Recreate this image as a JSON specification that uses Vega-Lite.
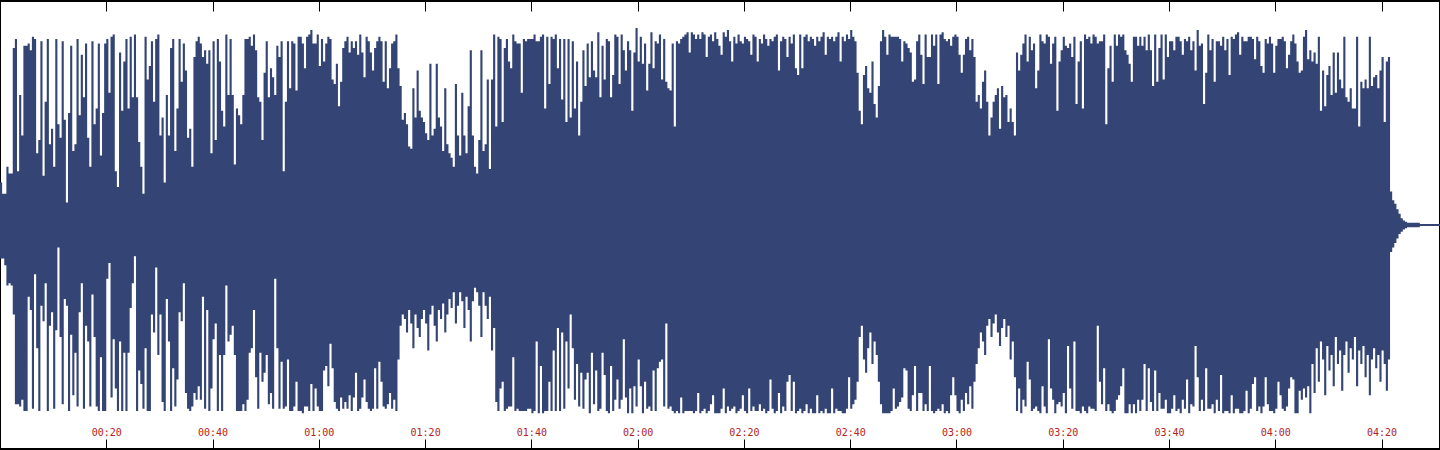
{
"$schema":"https://vega.github.io/schema/vega-lite/v6.json",
"width":1440,"height":450,"padding":0,
"autosize":{"type":"fit","contains":"padding"},
"background":"white",
"config":{"view":{"stroke":"#000000","strokeWidth":2}},
"data":{"values":[
{"t":0,"h":19,"l":-15},{"t":0.4,"h":14,"l":-15},{"t":0.8,"h":14,"l":-18},{"t":1.2,"h":26,"l":-27},{"t":1.6,"h":23,"l":-26},
{"t":2,"h":23,"l":-27},{"t":2.4,"h":79,"l":-40},{"t":2.8,"h":83,"l":-80},{"t":3.2,"h":24,"l":-80},{"t":3.6,"h":58,"l":-81},
{"t":4,"h":40,"l":-78},{"t":4.4,"h":80,"l":-83},{"t":4.8,"h":80,"l":-83},{"t":5.2,"h":81,"l":-32},{"t":5.6,"h":78,"l":-38},
{"t":6,"h":84,"l":-82},{"t":6.4,"h":83,"l":-22},{"t":6.8,"h":32,"l":-55},{"t":7.2,"h":38,"l":-83},{"t":7.6,"h":82,"l":-36},
{"t":8,"h":22,"l":-43},{"t":8.4,"h":55,"l":-26},{"t":8.8,"h":83,"l":-83},{"t":9.2,"h":36,"l":-45},{"t":9.6,"h":43,"l":-39},
{"t":10,"h":26,"l":-82},{"t":10.4,"h":83,"l":-47},{"t":10.8,"h":45,"l":-10},{"t":11.2,"h":39,"l":-50},{"t":11.6,"h":82,"l":-80},
{"t":12,"h":47,"l":-33},{"t":12.4,"h":10,"l":-36},{"t":12.8,"h":50,"l":-83},{"t":13.2,"h":80,"l":-49},{"t":13.6,"h":33,"l":-76},
{"t":14,"h":36,"l":-57},{"t":14.4,"h":83,"l":-81},{"t":14.8,"h":49,"l":-39},{"t":15.2,"h":76,"l":-26},{"t":15.6,"h":57,"l":-82},
{"t":16,"h":81,"l":-45},{"t":16.4,"h":39,"l":-52},{"t":16.8,"h":26,"l":-81},{"t":17.2,"h":82,"l":-31},{"t":17.6,"h":45,"l":-50},
{"t":18,"h":52,"l":-81},{"t":18.4,"h":81,"l":-83},{"t":18.8,"h":31,"l":-59},{"t":19.2,"h":50,"l":-83},{"t":19.6,"h":81,"l":-83},
{"t":20,"h":83,"l":-24},{"t":20.4,"h":59,"l":-17},{"t":20.8,"h":84,"l":-77},{"t":21.2,"h":85,"l":-51},{"t":21.6,"h":24,"l":-73},
{"t":22,"h":17,"l":-83},{"t":22.4,"h":77,"l":-52},{"t":22.8,"h":51,"l":-83},{"t":23.2,"h":73,"l":-57},{"t":23.6,"h":83,"l":-83},
{"t":24,"h":52,"l":-57},{"t":24.4,"h":84,"l":-37},{"t":24.8,"h":57,"l":-26},{"t":25.2,"h":85,"l":-14},{"t":25.6,"h":57,"l":-83},
{"t":26,"h":37,"l":-65},{"t":26.4,"h":26,"l":-71},{"t":26.8,"h":14,"l":-82},{"t":27.2,"h":84,"l":-55},{"t":27.6,"h":65,"l":-83},
{"t":28,"h":71,"l":-83},{"t":28.4,"h":82,"l":-40},{"t":28.8,"h":55,"l":-48},{"t":29.2,"h":83,"l":-19},{"t":29.6,"h":85,"l":-58},
{"t":30,"h":40,"l":-40},{"t":30.4,"h":48,"l":-79},{"t":30.8,"h":19,"l":-83},{"t":31.2,"h":58,"l":-33},{"t":31.6,"h":40,"l":-52},
{"t":32,"h":79,"l":-83},{"t":32.4,"h":83,"l":-64},{"t":32.8,"h":33,"l":-81},{"t":33.2,"h":52,"l":-69},{"t":33.6,"h":83,"l":-39},
{"t":34,"h":64,"l":-43},{"t":34.4,"h":81,"l":-26},{"t":34.8,"h":69,"l":-75},{"t":35.2,"h":39,"l":-82},{"t":35.6,"h":43,"l":-83},
{"t":36,"h":26,"l":-81},{"t":36.4,"h":75,"l":-75},{"t":36.8,"h":82,"l":-78},{"t":37.2,"h":84,"l":-72},{"t":37.6,"h":81,"l":-78},
{"t":38,"h":75,"l":-32},{"t":38.4,"h":78,"l":-82},{"t":38.8,"h":72,"l":-38},{"t":39.2,"h":78,"l":-83},{"t":39.6,"h":32,"l":-73},
{"t":40,"h":82,"l":-51},{"t":40.4,"h":38,"l":-44},{"t":40.8,"h":83,"l":-83},{"t":41.2,"h":73,"l":-58},{"t":41.6,"h":51,"l":-83},
{"t":42,"h":44,"l":-58},{"t":42.4,"h":85,"l":-27},{"t":42.8,"h":58,"l":-52},{"t":43.2,"h":83,"l":-49},{"t":43.6,"h":58,"l":-45},
{"t":44,"h":27,"l":-58},{"t":44.4,"h":52,"l":-83},{"t":44.8,"h":49,"l":-83},{"t":45.2,"h":45,"l":-83},{"t":45.6,"h":58,"l":-80},
{"t":46,"h":83,"l":-83},{"t":46.4,"h":83,"l":-78},{"t":46.8,"h":84,"l":-57},{"t":47.2,"h":80,"l":-55},{"t":47.6,"h":85,"l":-38},
{"t":48,"h":78,"l":-68},{"t":48.4,"h":57,"l":-82},{"t":48.8,"h":55,"l":-57},{"t":49.2,"h":38,"l":-70},{"t":49.6,"h":68,"l":-66},
{"t":50,"h":82,"l":-58},{"t":50.4,"h":57,"l":-80},{"t":50.8,"h":70,"l":-75},{"t":51.2,"h":66,"l":-82},{"t":51.6,"h":58,"l":-24},
{"t":52,"h":80,"l":-55},{"t":52.4,"h":75,"l":-82},{"t":52.8,"h":82,"l":-61},{"t":53.2,"h":24,"l":-82},{"t":53.6,"h":55,"l":-81},
{"t":54,"h":82,"l":-60},{"t":54.4,"h":61,"l":-83},{"t":54.8,"h":82,"l":-83},{"t":55.2,"h":81,"l":-81},{"t":55.6,"h":60,"l":-70},
{"t":56,"h":84,"l":-83},{"t":56.4,"h":84,"l":-83},{"t":56.8,"h":81,"l":-84},{"t":57.2,"h":70,"l":-81},{"t":57.6,"h":84,"l":-81},
{"t":58,"h":85,"l":-83},{"t":58.4,"h":87,"l":-71},{"t":58.8,"h":81,"l":-83},{"t":59.2,"h":81,"l":-73},{"t":59.6,"h":85,"l":-81},
{"t":60,"h":71,"l":-83},{"t":60.4,"h":83,"l":-83},{"t":60.8,"h":73,"l":-65},{"t":61.2,"h":81,"l":-63},{"t":61.6,"h":84,"l":-72},
{"t":62,"h":83,"l":-53},{"t":62.4,"h":65,"l":-64},{"t":62.8,"h":63,"l":-79},{"t":63.2,"h":72,"l":-82},{"t":63.6,"h":53,"l":-83},
{"t":64,"h":64,"l":-77},{"t":64.4,"h":79,"l":-82},{"t":64.8,"h":82,"l":-79},{"t":65.2,"h":84,"l":-82},{"t":65.6,"h":77,"l":-76},
{"t":66,"h":82,"l":-83},{"t":66.4,"h":79,"l":-77},{"t":66.8,"h":82,"l":-66},{"t":67.2,"h":76,"l":-83},{"t":67.6,"h":85,"l":-82},
{"t":68,"h":77,"l":-77},{"t":68.4,"h":66,"l":-69},{"t":68.8,"h":84,"l":-79},{"t":69.2,"h":82,"l":-82},{"t":69.6,"h":77,"l":-83},
{"t":70,"h":69,"l":-82},{"t":70.4,"h":79,"l":-64},{"t":70.8,"h":82,"l":-82},{"t":71.2,"h":84,"l":-61},{"t":71.6,"h":82,"l":-70},
{"t":72,"h":64,"l":-81},{"t":72.4,"h":82,"l":-82},{"t":72.8,"h":61,"l":-80},{"t":73.2,"h":70,"l":-75},{"t":73.6,"h":81,"l":-82},
{"t":74,"h":82,"l":-78},{"t":74.4,"h":85,"l":-83},{"t":74.8,"h":70,"l":-60},{"t":75.2,"h":62,"l":-45},{"t":75.6,"h":47,"l":-40},
{"t":76,"h":50,"l":-42},{"t":76.4,"h":45,"l":-48},{"t":76.8,"h":35,"l":-38},{"t":77.2,"h":34,"l":-44},{"t":77.6,"h":61,"l":-55},
{"t":78,"h":48,"l":-40},{"t":78.4,"h":69,"l":-46},{"t":78.8,"h":51,"l":-50},{"t":79.2,"h":48,"l":-42},{"t":79.6,"h":46,"l":-38},
{"t":80,"h":41,"l":-44},{"t":80.4,"h":38,"l":-56},{"t":80.8,"h":72,"l":-40},{"t":81.2,"h":40,"l":-36},{"t":81.6,"h":43,"l":-45},
{"t":82,"h":72,"l":-52},{"t":82.4,"h":48,"l":-38},{"t":82.8,"h":44,"l":-42},{"t":83.2,"h":33,"l":-35},{"t":83.6,"h":61,"l":-48},
{"t":84,"h":36,"l":-40},{"t":84.4,"h":32,"l":-33},{"t":84.8,"h":30,"l":-37},{"t":85.2,"h":26,"l":-30},{"t":85.6,"h":63,"l":-44},
{"t":86,"h":40,"l":-36},{"t":86.4,"h":31,"l":-30},{"t":86.8,"h":59,"l":-34},{"t":87.2,"h":40,"l":-46},{"t":87.6,"h":32,"l":-32},
{"t":88,"h":53,"l":-38},{"t":88.4,"h":78,"l":-52},{"t":88.8,"h":40,"l":-34},{"t":89.2,"h":26,"l":-28},{"t":89.6,"h":23,"l":-30},
{"t":90,"h":38,"l":-36},{"t":90.4,"h":78,"l":-50},{"t":90.8,"h":33,"l":-30},{"t":91.2,"h":36,"l":-36},{"t":91.6,"h":65,"l":-42},
{"t":92,"h":25,"l":-32},{"t":92.4,"h":65,"l":-56},{"t":92.8,"h":85,"l":-46},{"t":93.2,"h":44,"l":-79},{"t":93.6,"h":84,"l":-83},
{"t":94,"h":83,"l":-73},{"t":94.4,"h":46,"l":-70},{"t":94.8,"h":79,"l":-83},{"t":95.2,"h":83,"l":-82},{"t":95.6,"h":73,"l":-81},
{"t":96,"h":70,"l":-81},{"t":96.4,"h":85,"l":-59},{"t":96.8,"h":82,"l":-83},{"t":97.2,"h":81,"l":-82},{"t":97.6,"h":81,"l":-83},
{"t":98,"h":59,"l":-83},{"t":98.4,"h":83,"l":-83},{"t":98.8,"h":82,"l":-83},{"t":99.2,"h":83,"l":-82},{"t":99.6,"h":83,"l":-82},
{"t":100,"h":83,"l":-84},{"t":100.4,"h":85,"l":-83},{"t":100.8,"h":82,"l":-52},{"t":101.2,"h":82,"l":-84},{"t":101.6,"h":84,"l":-63},
{"t":102,"h":85,"l":-84},{"t":102.4,"h":52,"l":-83},{"t":102.8,"h":84,"l":-83},{"t":103.2,"h":63,"l":-70},{"t":103.6,"h":84,"l":-83},
{"t":104,"h":83,"l":-56},{"t":104.4,"h":85,"l":-83},{"t":104.8,"h":70,"l":-46},{"t":105.2,"h":83,"l":-83},{"t":105.6,"h":56,"l":-48},
{"t":106,"h":83,"l":-82},{"t":106.4,"h":46,"l":-52},{"t":106.8,"h":83,"l":-73},{"t":107.2,"h":48,"l":-40},{"t":107.6,"h":82,"l":-55},
{"t":108,"h":52,"l":-78},{"t":108.4,"h":73,"l":-62},{"t":108.8,"h":40,"l":-81},{"t":109.2,"h":55,"l":-66},{"t":109.6,"h":78,"l":-82},
{"t":110,"h":62,"l":-69},{"t":110.4,"h":81,"l":-66},{"t":110.8,"h":66,"l":-84},{"t":111.2,"h":82,"l":-57},{"t":111.6,"h":69,"l":-80},
{"t":112,"h":66,"l":-65},{"t":112.4,"h":86,"l":-83},{"t":112.8,"h":57,"l":-82},{"t":113.2,"h":80,"l":-57},{"t":113.6,"h":65,"l":-67},
{"t":114,"h":83,"l":-83},{"t":114.4,"h":82,"l":-84},{"t":114.8,"h":57,"l":-63},{"t":115.2,"h":67,"l":-83},{"t":115.6,"h":85,"l":-78},
{"t":116,"h":84,"l":-69},{"t":116.4,"h":63,"l":-82},{"t":116.8,"h":85,"l":-78},{"t":117.2,"h":78,"l":-51},{"t":117.6,"h":69,"l":-77},
{"t":118,"h":82,"l":-84},{"t":118.4,"h":78,"l":-73},{"t":118.8,"h":51,"l":-84},{"t":119.2,"h":77,"l":-72},{"t":119.6,"h":88,"l":-81},
{"t":120,"h":73,"l":-60},{"t":120.4,"h":84,"l":-72},{"t":120.8,"h":72,"l":-84},{"t":121.2,"h":81,"l":-70},{"t":121.6,"h":60,"l":-82},
{"t":122,"h":72,"l":-81},{"t":122.4,"h":86,"l":-83},{"t":122.8,"h":70,"l":-65},{"t":123.2,"h":82,"l":-83},{"t":123.6,"h":81,"l":-64},
{"t":124,"h":85,"l":-61},{"t":124.4,"h":65,"l":-60},{"t":124.8,"h":83,"l":-81},{"t":125.2,"h":64,"l":-44},{"t":125.6,"h":61,"l":-82},
{"t":126,"h":60,"l":-81},{"t":126.4,"h":81,"l":-83},{"t":126.8,"h":44,"l":-84},{"t":127.2,"h":82,"l":-83},{"t":127.6,"h":81,"l":-84},
{"t":128,"h":83,"l":-77},{"t":128.4,"h":84,"l":-84},{"t":128.8,"h":85,"l":-83},{"t":129.2,"h":86,"l":-83},{"t":129.6,"h":77,"l":-83},
{"t":130,"h":86,"l":-83},{"t":130.4,"h":85,"l":-84},{"t":130.8,"h":83,"l":-83},{"t":131.2,"h":85,"l":-75},{"t":131.6,"h":83,"l":-84},
{"t":132,"h":86,"l":-83},{"t":132.4,"h":85,"l":-82},{"t":132.8,"h":75,"l":-84},{"t":133.2,"h":84,"l":-83},{"t":133.6,"h":85,"l":-80},
{"t":134,"h":82,"l":-76},{"t":134.4,"h":86,"l":-84},{"t":134.8,"h":83,"l":-84},{"t":135.2,"h":80,"l":-84},{"t":135.6,"h":76,"l":-82},
{"t":136,"h":86,"l":-73},{"t":136.4,"h":84,"l":-84},{"t":136.8,"h":87,"l":-81},{"t":137.2,"h":82,"l":-83},{"t":137.6,"h":73,"l":-82},
{"t":138,"h":84,"l":-81},{"t":138.4,"h":81,"l":-84},{"t":138.8,"h":85,"l":-83},{"t":139.2,"h":82,"l":-82},{"t":139.6,"h":81,"l":-76},
{"t":140,"h":84,"l":-83},{"t":140.4,"h":83,"l":-84},{"t":140.8,"h":82,"l":-73},{"t":141.2,"h":76,"l":-83},{"t":141.6,"h":85,"l":-81},
{"t":142,"h":84,"l":-83},{"t":142.4,"h":73,"l":-83},{"t":142.8,"h":83,"l":-80},{"t":143.2,"h":81,"l":-83},{"t":143.6,"h":85,"l":-82},
{"t":144,"h":83,"l":-84},{"t":144.4,"h":80,"l":-83},{"t":144.8,"h":83,"l":-69},{"t":145.2,"h":82,"l":-82},{"t":145.6,"h":84,"l":-84},
{"t":146,"h":85,"l":-83},{"t":146.4,"h":69,"l":-75},{"t":146.8,"h":82,"l":-84},{"t":147.2,"h":84,"l":-81},{"t":147.6,"h":83,"l":-83},
{"t":148,"h":75,"l":-70},{"t":148.4,"h":84,"l":-67},{"t":148.8,"h":81,"l":-83},{"t":149.2,"h":85,"l":-70},{"t":149.6,"h":70,"l":-84},
{"t":150,"h":67,"l":-83},{"t":150.4,"h":85,"l":-82},{"t":150.8,"h":70,"l":-84},{"t":151.2,"h":84,"l":-83},{"t":151.6,"h":85,"l":-80},
{"t":152,"h":82,"l":-84},{"t":152.4,"h":84,"l":-82},{"t":152.8,"h":83,"l":-84},{"t":153.2,"h":80,"l":-84},{"t":153.6,"h":84,"l":-76},
{"t":154,"h":82,"l":-84},{"t":154.4,"h":84,"l":-83},{"t":154.8,"h":86,"l":-84},{"t":155.2,"h":76,"l":-82},{"t":155.6,"h":84,"l":-84},
{"t":156,"h":83,"l":-84},{"t":156.4,"h":84,"l":-73},{"t":156.8,"h":82,"l":-84},{"t":157.2,"h":84,"l":-82},{"t":157.6,"h":86,"l":-83},
{"t":158,"h":73,"l":-83},{"t":158.4,"h":84,"l":-84},{"t":158.8,"h":82,"l":-84},{"t":159.2,"h":85,"l":-82},{"t":159.6,"h":83,"l":-68},
{"t":160,"h":87,"l":-82},{"t":160.4,"h":84,"l":-80},{"t":160.8,"h":82,"l":-78},{"t":161.2,"h":68,"l":-70},{"t":161.6,"h":51,"l":-50},
{"t":162,"h":45,"l":-45},{"t":162.4,"h":67,"l":-60},{"t":162.8,"h":71,"l":-66},{"t":163.2,"h":61,"l":-55},{"t":163.6,"h":59,"l":-48},
{"t":164,"h":73,"l":-62},{"t":164.4,"h":54,"l":-52},{"t":164.8,"h":48,"l":-58},{"t":165.2,"h":62,"l":-70},{"t":165.6,"h":82,"l":-80},
{"t":166,"h":87,"l":-84},{"t":166.4,"h":84,"l":-84},{"t":166.8,"h":76,"l":-84},{"t":167.2,"h":85,"l":-84},{"t":167.6,"h":84,"l":-83},
{"t":168,"h":84,"l":-73},{"t":168.4,"h":84,"l":-82},{"t":168.8,"h":84,"l":-81},{"t":169.2,"h":83,"l":-79},{"t":169.6,"h":73,"l":-77},
{"t":170,"h":82,"l":-64},{"t":170.4,"h":81,"l":-65},{"t":170.8,"h":79,"l":-82},{"t":171.2,"h":77,"l":-83},{"t":171.6,"h":64,"l":-76},
{"t":172,"h":65,"l":-63},{"t":172.4,"h":82,"l":-83},{"t":172.8,"h":85,"l":-75},{"t":173.2,"h":76,"l":-75},{"t":173.6,"h":63,"l":-83},
{"t":174,"h":85,"l":-80},{"t":174.4,"h":75,"l":-83},{"t":174.8,"h":75,"l":-63},{"t":175.2,"h":85,"l":-83},{"t":175.6,"h":80,"l":-84},
{"t":176,"h":85,"l":-83},{"t":176.4,"h":63,"l":-82},{"t":176.8,"h":85,"l":-83},{"t":177.2,"h":86,"l":-80},{"t":177.6,"h":83,"l":-84},
{"t":178,"h":82,"l":-83},{"t":178.4,"h":83,"l":-84},{"t":178.8,"h":80,"l":-76},{"t":179.2,"h":84,"l":-68},{"t":179.6,"h":85,"l":-76},
{"t":180,"h":84,"l":-83},{"t":180.4,"h":76,"l":-84},{"t":180.8,"h":68,"l":-78},{"t":181.2,"h":76,"l":-83},{"t":181.6,"h":83,"l":-75},
{"t":182,"h":84,"l":-80},{"t":182.4,"h":78,"l":-72},{"t":182.8,"h":83,"l":-82},{"t":183.2,"h":75,"l":-70},{"t":183.6,"h":55,"l":-62},
{"t":184,"h":58,"l":-55},{"t":184.4,"h":52,"l":-48},{"t":184.8,"h":64,"l":-52},{"t":185.2,"h":69,"l":-58},{"t":185.6,"h":55,"l":-45},
{"t":186,"h":40,"l":-42},{"t":186.4,"h":48,"l":-50},{"t":186.8,"h":55,"l":-44},{"t":187.2,"h":58,"l":-40},{"t":187.6,"h":61,"l":-48},
{"t":188,"h":43,"l":-54},{"t":188.4,"h":62,"l":-46},{"t":188.8,"h":57,"l":-42},{"t":189.2,"h":58,"l":-50},{"t":189.6,"h":46,"l":-45},
{"t":190,"h":52,"l":-60},{"t":190.4,"h":46,"l":-52},{"t":190.8,"h":40,"l":-68},{"t":191.2,"h":77,"l":-83},{"t":191.6,"h":69,"l":-73},
{"t":192,"h":76,"l":-84},{"t":192.4,"h":81,"l":-78},{"t":192.8,"h":85,"l":-81},{"t":193.2,"h":73,"l":-61},{"t":193.6,"h":84,"l":-69},
{"t":194,"h":78,"l":-83},{"t":194.4,"h":81,"l":-82},{"t":194.8,"h":61,"l":-81},{"t":195.2,"h":69,"l":-83},{"t":195.6,"h":85,"l":-84},
{"t":196,"h":82,"l":-72},{"t":196.4,"h":81,"l":-81},{"t":196.8,"h":85,"l":-84},{"t":197.2,"h":84,"l":-51},{"t":197.6,"h":72,"l":-73},
{"t":198,"h":81,"l":-78},{"t":198.4,"h":84,"l":-84},{"t":198.8,"h":51,"l":-80},{"t":199.2,"h":73,"l":-79},{"t":199.6,"h":78,"l":-81},
{"t":200,"h":84,"l":-75},{"t":200.4,"h":80,"l":-84},{"t":200.8,"h":79,"l":-54},{"t":201.2,"h":81,"l":-73},{"t":201.6,"h":75,"l":-82},
{"t":202,"h":84,"l":-52},{"t":202.4,"h":54,"l":-83},{"t":202.8,"h":73,"l":-83},{"t":203.2,"h":82,"l":-84},{"t":203.6,"h":52,"l":-81},
{"t":204,"h":85,"l":-83},{"t":204.4,"h":83,"l":-84},{"t":204.8,"h":84,"l":-81},{"t":205.2,"h":81,"l":-82},{"t":205.6,"h":85,"l":-82},
{"t":206,"h":84,"l":-83},{"t":206.4,"h":81,"l":-45},{"t":206.8,"h":82,"l":-70},{"t":207.2,"h":82,"l":-80},{"t":207.6,"h":85,"l":-64},
{"t":208,"h":45,"l":-83},{"t":208.4,"h":70,"l":-80},{"t":208.8,"h":80,"l":-83},{"t":209.2,"h":64,"l":-84},{"t":209.6,"h":85,"l":-83},
{"t":210,"h":80,"l":-78},{"t":210.4,"h":85,"l":-76},{"t":210.8,"h":84,"l":-72},{"t":211.2,"h":85,"l":-64},{"t":211.6,"h":78,"l":-84},
{"t":212,"h":76,"l":-84},{"t":212.4,"h":72,"l":-80},{"t":212.8,"h":64,"l":-84},{"t":213.2,"h":84,"l":-80},{"t":213.6,"h":84,"l":-84},
{"t":214,"h":80,"l":-78},{"t":214.4,"h":84,"l":-83},{"t":214.8,"h":80,"l":-78},{"t":215.2,"h":84,"l":-62},{"t":215.6,"h":78,"l":-83},
{"t":216,"h":85,"l":-64},{"t":216.4,"h":78,"l":-79},{"t":216.8,"h":62,"l":-83},{"t":217.2,"h":85,"l":-65},{"t":217.6,"h":64,"l":-83},
{"t":218,"h":79,"l":-75},{"t":218.4,"h":85,"l":-82},{"t":218.8,"h":65,"l":-82},{"t":219.2,"h":85,"l":-78},{"t":219.6,"h":75,"l":-84},
{"t":220,"h":82,"l":-84},{"t":220.4,"h":82,"l":-82},{"t":220.8,"h":78,"l":-76},{"t":221.2,"h":84,"l":-83},{"t":221.6,"h":84,"l":-82},
{"t":222,"h":82,"l":-84},{"t":222.4,"h":76,"l":-78},{"t":222.8,"h":83,"l":-82},{"t":223.2,"h":82,"l":-69},{"t":223.6,"h":84,"l":-84},
{"t":224,"h":78,"l":-80},{"t":224.4,"h":82,"l":-81},{"t":224.8,"h":69,"l":-54},{"t":225.2,"h":87,"l":-68},{"t":225.6,"h":80,"l":-83},
{"t":226,"h":81,"l":-78},{"t":226.4,"h":54,"l":-83},{"t":226.8,"h":68,"l":-64},{"t":227.2,"h":85,"l":-82},{"t":227.6,"h":78,"l":-82},
{"t":228,"h":83,"l":-80},{"t":228.4,"h":64,"l":-84},{"t":228.8,"h":82,"l":-78},{"t":229.2,"h":82,"l":-83},{"t":229.6,"h":80,"l":-67},
{"t":230,"h":84,"l":-84},{"t":230.4,"h":78,"l":-83},{"t":230.8,"h":83,"l":-83},{"t":231.2,"h":67,"l":-84},{"t":231.6,"h":84,"l":-76},
{"t":232,"h":83,"l":-84},{"t":232.4,"h":85,"l":-82},{"t":232.8,"h":86,"l":-82},{"t":233.2,"h":76,"l":-84},{"t":233.6,"h":84,"l":-84},
{"t":234,"h":82,"l":-83},{"t":234.4,"h":82,"l":-74},{"t":234.8,"h":84,"l":-84},{"t":235.2,"h":84,"l":-82},{"t":235.6,"h":83,"l":-71},
{"t":236,"h":74,"l":-68},{"t":236.4,"h":84,"l":-83},{"t":236.8,"h":82,"l":-81},{"t":237.2,"h":71,"l":-84},{"t":237.6,"h":68,"l":-81},
{"t":238,"h":83,"l":-68},{"t":238.4,"h":81,"l":-80},{"t":238.8,"h":84,"l":-83},{"t":239.2,"h":81,"l":-83},{"t":239.6,"h":68,"l":-84},
{"t":240,"h":80,"l":-82},{"t":240.4,"h":83,"l":-70},{"t":240.8,"h":83,"l":-76},{"t":241.2,"h":84,"l":-82},{"t":241.6,"h":82,"l":-83},
{"t":242,"h":70,"l":-81},{"t":242.4,"h":76,"l":-73},{"t":242.8,"h":82,"l":-68},{"t":243.2,"h":85,"l":-69},{"t":243.6,"h":81,"l":-84},
{"t":244,"h":73,"l":-84},{"t":244.4,"h":68,"l":-74},{"t":244.8,"h":69,"l":-78},{"t":245.2,"h":84,"l":-73},{"t":245.6,"h":87,"l":-77},
{"t":246,"h":74,"l":-72},{"t":246.4,"h":78,"l":-84},{"t":246.8,"h":73,"l":-62},{"t":247.2,"h":77,"l":-75},{"t":247.6,"h":72,"l":-55},
{"t":248,"h":84,"l":-70},{"t":248.4,"h":51,"l":-52},{"t":248.8,"h":69,"l":-60},{"t":249.2,"h":53,"l":-76},{"t":249.6,"h":67,"l":-54},
{"t":250,"h":71,"l":-65},{"t":250.4,"h":58,"l":-58},{"t":250.8,"h":77,"l":-72},{"t":251.2,"h":59,"l":-50},{"t":251.6,"h":77,"l":-62},
{"t":252,"h":65,"l":-56},{"t":252.4,"h":61,"l":-74},{"t":252.8,"h":84,"l":-58},{"t":253.2,"h":57,"l":-52},{"t":253.6,"h":55,"l":-66},
{"t":254,"h":61,"l":-55},{"t":254.4,"h":52,"l":-60},{"t":254.8,"h":52,"l":-50},{"t":255.2,"h":84,"l":-72},{"t":255.6,"h":44,"l":-56},
{"t":256,"h":64,"l":-62},{"t":256.4,"h":61,"l":-54},{"t":256.8,"h":65,"l":-68},{"t":257.2,"h":61,"l":-58},{"t":257.6,"h":84,"l":-76},
{"t":258,"h":62,"l":-60},{"t":258.4,"h":66,"l":-55},{"t":258.8,"h":67,"l":-64},{"t":259.2,"h":61,"l":-58},{"t":259.6,"h":69,"l":-70},
{"t":260,"h":75,"l":-56},{"t":260.4,"h":46,"l":-62},{"t":260.8,"h":73,"l":-74},{"t":261.2,"h":75,"l":-60},{"t":261.6,"h":15,"l":-12},
{"t":262,"h":11,"l":-10},{"t":262.4,"h":9.5,"l":-8},{"t":262.8,"h":7,"l":-6},{"t":263.2,"h":5,"l":-4},{"t":263.6,"h":3,"l":-3},
{"t":264,"h":2,"l":-2},{"t":264.4,"h":1.5,"l":-1.5},{"t":264.8,"h":1,"l":-1},{"t":265.2,"h":1,"l":-1},{"t":265.6,"h":1,"l":-1},
{"t":266,"h":1,"l":-1},{"t":266.4,"h":1,"l":-1},{"t":266.8,"h":1,"l":-1},{"t":267.2,"h":0.4,"l":-0.4},{"t":267.6,"h":0.4,"l":-0.4},
{"t":268,"h":0.4,"l":-0.4},{"t":268.4,"h":0.4,"l":-0.4},{"t":268.8,"h":0.4,"l":-0.4},{"t":269.2,"h":0.4,"l":-0.4},{"t":269.6,"h":0.4,"l":-0.4},
{"t":270,"h":0.4,"l":-0.4},{"t":270.4,"h":0.4,"l":-0.4},{"t":270.8,"h":0.4,"l":-0.4},{"t":271.2,"h":0.4,"l":-0.4}
]},
"layer":[
{"mark":{"type":"area","interpolate":"step-after","color":"#344575","clip":true},
 "encoding":{
  "x":{"field":"t","type":"quantitative","scale":{"domain":[0,271],"nice":false,"zero":false},
   "axis":{"orient":"bottom","values":[20,40,60,80,100,120,140,160,180,200,220,240,260],"domain":false,"grid":false,"ticks":true,"tickSize":-10,"tickColor":"#000000","tickWidth":1,"labelExpr":"'0' + floor(datum.value/60) + ':' + (datum.value % 60 < 10 ? '0' : '') + (datum.value % 60)","labelColor":"#b22222","labelFont":"DejaVu Sans Mono","labelFontSize":10,"labelPadding":-4,"labelBaseline":"alphabetic","labelAlign":"center","labelOverlap":false,"labelFlush":false,"title":null}},
  "y":{"field":"h","type":"quantitative","scale":{"domain":[-100,100],"nice":false,"zero":false},"axis":null},
  "y2":{"field":"l"}
 }},
{"transform":[{"filter":"datum.t == 100"}],
 "mark":{"type":"point","opacity":0,"size":0},
 "encoding":{
  "x":{"field":"t","type":"quantitative","axis":{"orient":"top","values":[20,40,60,80,100,120,140,160,180,200,220,240,260],"domain":false,"grid":false,"ticks":true,"tickSize":-10,"tickColor":"#000000","tickWidth":1,"labels":false,"title":null}},
  "y":{"field":"h","type":"quantitative","axis":null}
 }}
],
"resolve":{"axis":{"x":"independent"}}
}
